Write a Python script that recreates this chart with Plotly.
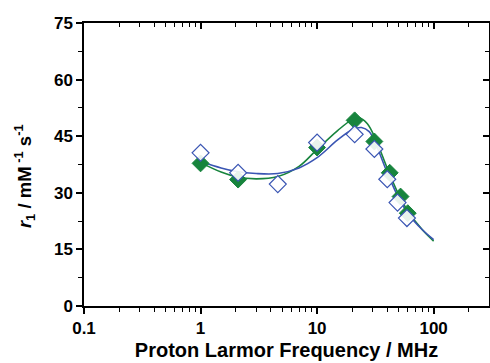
import plotly.graph_objects as go

# measured data (filled green diamonds)
green_x = [1.0, 2.1, 10.0, 21.0, 31.0, 42.0, 52.0, 60.0]
green_y = [37.8, 33.5, 42.0, 49.2, 43.6, 35.3, 29.0, 24.6]
# measured data (open blue diamonds)
blue_x = [1.0, 2.1, 4.6, 10.0, 21.0, 31.0, 40.0, 49.0, 59.0]
blue_y = [40.6, 35.3, 32.3, 43.3, 45.5, 41.6, 33.6, 27.4, 23.3]

# fitted curves
gfit_x = [1.0, 1.5, 2.0, 3.0, 4.6, 7.0, 10.0, 15.0, 20.0, 23.0, 27.0, 32.0, 40.0, 50.0, 60.0, 80.0, 100.0]
gfit_y = [38.0, 35.5, 34.3, 33.7, 34.3, 37.0, 41.5, 46.5, 49.4, 49.9, 48.3, 44.0, 36.5, 29.6, 25.2, 20.2, 17.2]
bfit_x = [1.0, 1.5, 2.0, 3.0, 4.6, 7.0, 10.0, 15.0, 20.0, 24.0, 28.0, 32.0, 40.0, 50.0, 60.0, 80.0, 100.0]
bfit_y = [38.3, 36.6, 35.7, 35.1, 35.1, 36.6, 39.3, 44.0, 46.7, 47.3, 46.2, 42.8, 35.3, 28.7, 24.6, 20.2, 17.6]

x_title = "<b>Proton Larmor Frequency / MHz</b>"
y_title = "<b><i>r</i><sub>1</sub> / mM<sup> -1</sup> s<sup>-1</sup></b>"

GREEN = "#17843d"
BLUE = "#3a55b3"
FONT = "Liberation Sans"

fig = go.Figure()
fig.add_trace(go.Scatter(x=gfit_x, y=gfit_y, mode="lines",
                         line=dict(color=GREEN, width=1.6, shape="spline", smoothing=1.0),
                         showlegend=False, hoverinfo="skip"))
fig.add_trace(go.Scatter(x=bfit_x, y=bfit_y, mode="lines",
                         line=dict(color=BLUE, width=1.6, shape="spline", smoothing=1.0),
                         showlegend=False, hoverinfo="skip"))
fig.add_trace(go.Scatter(x=green_x, y=green_y, mode="markers",
                         marker=dict(symbol="diamond", size=13, color=GREEN,
                                     line=dict(color=GREEN, width=1)),
                         showlegend=False))
fig.add_trace(go.Scatter(x=blue_x, y=blue_y, mode="markers",
                         marker=dict(symbol="diamond", size=13, color="rgba(255,255,255,0.9)",
                                     line=dict(color=BLUE, width=1.2)),
                         showlegend=False))
# invisible trace that activates the mirror (top/right) axes
fig.add_trace(go.Scatter(x=[1], y=[30], xaxis="x2", yaxis="y2", mode="markers",
                         marker=dict(opacity=0), showlegend=False, hoverinfo="skip"))

xr = [-1, 2.475]
yr = [0, 75]

common_x = dict(type="log", range=xr, dtick=1, tickwidth=1.6, tickcolor="black", ticklen=6,
                showline=True, linecolor="black", linewidth=1.5, showgrid=False, zeroline=False)
common_y = dict(range=yr, tick0=0, dtick=15, tickwidth=1.6, tickcolor="black", ticklen=6,
                showline=True, linecolor="black", linewidth=1.5, showgrid=False, zeroline=False)
minor_style = dict(ticklen=4, tickwidth=1.3, tickcolor="black", showgrid=False)

fig.update_layout(
    width=490, height=363,
    margin=dict(l=84, r=1, t=23, b=57),
    paper_bgcolor="white", plot_bgcolor="white",
    font=dict(family=FONT, color="black", size=17),
    xaxis=dict(**common_x, ticks="outside",
               minor=dict(ticks="outside", **minor_style),
               tickfont=dict(family=FONT, size=17, color="black", weight="bold"),
               title=dict(text=x_title,
                          font=dict(family=FONT, size=20, color="black"), standoff=6)),
    xaxis2=dict(**common_x, overlaying="x", side="top", ticks="inside",
                minor=dict(ticks="inside", **minor_style),
                showticklabels=False),
    yaxis=dict(**common_y, ticks="outside",
               minor=dict(dtick=7.5, ticks="outside", **minor_style),
               tickfont=dict(family=FONT, size=17, color="black", weight="bold")),
    yaxis2=dict(**common_y, overlaying="y", side="right", ticks="inside",
                minor=dict(dtick=7.5, ticks="inside", **minor_style),
                showticklabels=False),
    annotations=[dict(text=y_title, xref="paper", yref="paper", x=-0.145, y=0.46,
                      xanchor="center", yanchor="middle", textangle=-90, showarrow=False,
                      font=dict(family=FONT, size=18.5, color="black"))],
)

fig.write_html("out.html")
